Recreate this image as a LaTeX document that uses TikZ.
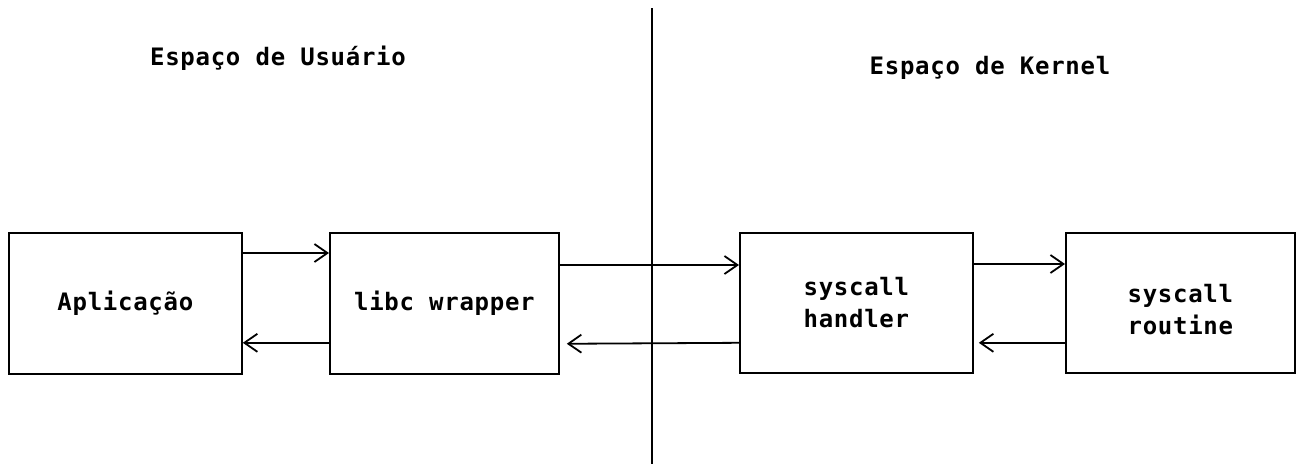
\documentclass[tikz,border=0pt]{standalone}
\usepackage{fontspec}
\setmonofont[LetterSpace=3]{DejaVu Sans Mono}
\usetikzlibrary{arrows.meta}
\begin{document}
\begin{tikzpicture}[x=1pt,y=-1pt,
  every node/.style={font=\ttfamily\bfseries\fontsize{24}{32}\selectfont},
  block/.style={draw,line width=1.8pt,rectangle,anchor=north west,inner sep=0pt,align=center},
  flow/.style={line width=1.8pt,-{Straight Barb[length=13pt,width=18pt,line width=1.8pt]}}]
  \useasboundingbox (0,0) rectangle (1296,464);
  % dividing line between user and kernel space
  \coordinate (divtop) at (652,8);
  \coordinate (divbot) at (652,464);
  \draw[line width=1.8pt] (divtop) -- (divbot);
  % region titles
  \node (user) at (278,58) {Espaço de Usuário};
  \node (kern) at (990,68) {Espaço de Kernel};
  % blocks
  \node[block,minimum width=233pt,minimum height=141pt] (app) at (8,232) {Aplicação};
  \node[block,minimum width=229pt,minimum height=141pt] (libc) at (329,232) {libc wrapper};
  \node[block,minimum width=233pt,minimum height=140pt] (hand) at (739,232) {syscall\\handler};
  \node[block,minimum width=229pt,minimum height=140pt] (rout) at (1065,232) {};
  \node[align=center] (routtxt) at ([yshift=-7pt]rout.center) {syscall\\routine};
  % calls and returns
  \draw[flow] ([yshift=-21pt]app.north east) -- ([yshift=-21pt]libc.north west);
  \draw[flow] ([yshift=32pt]libc.south west) -- ([yshift=32pt]app.south east);
  \draw[flow] ([yshift=-33pt]libc.north east) -- ([yshift=-33pt]hand.north west);
  \draw[flow,shorten >=7pt] ([yshift=31pt]hand.south west) -- ([yshift=31pt]libc.south east);
  \draw[flow] ([yshift=-32pt]hand.north east) -- ([yshift=-32pt]rout.north west);
  \draw[flow,shorten >=5pt] ([yshift=31pt]rout.south west) -- ([yshift=31pt]hand.south east);
\end{tikzpicture}
\end{document}
